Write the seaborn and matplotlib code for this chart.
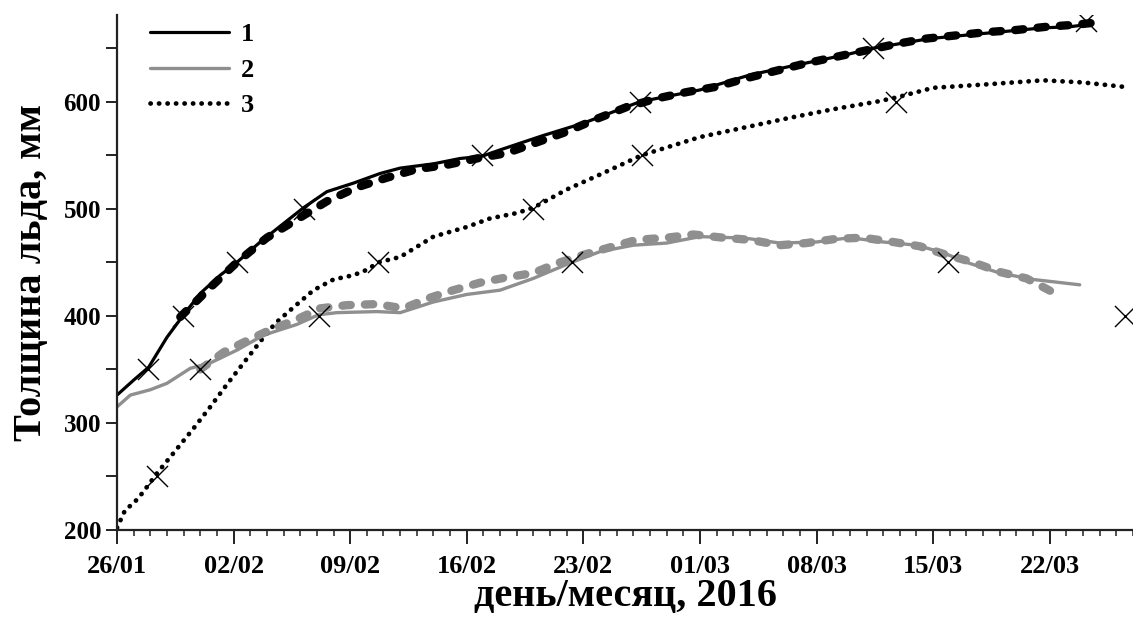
import matplotlib
matplotlib.use("Agg")
import matplotlib.pyplot as plt
import seaborn as sns
import pandas as pd
from matplotlib.ticker import MultipleLocator, FixedLocator

# ---- data (x = days since 26/01/2016) ----
s1_day = [0, 1, 1.9, 3, 4, 5, 6.2, 7.2, 8.6, 9.9, 11.2, 12.6, 14.2, 15.8, 17, 19, 20.6, 21.9, 23,
          25.5, 28, 31.4, 35, 38, 40.4, 43.8, 45.4, 48.8, 52.2, 55.6, 57.2, 58.2]
s1_val = [326, 340, 352, 380, 401, 421, 438, 450, 469, 485, 501, 516, 524, 533, 538, 542, 547, 549, 555,
          568, 580, 600, 611, 625, 633, 644, 650, 659, 664, 669, 670, 672]

m1_day = [3.8, 5.5, 7.2, 9, 10.8, 12.6, 14.4, 16.2, 18, 19.8, 21.6, 23.4, 25.2, 27, 28.8, 30.6, 32.4,
          34.2, 36, 37.8, 39.6, 41.4, 43.2, 45, 46.8, 48.6, 50.4, 52.2, 54, 55.8, 57.6, 58.8]
m1_val = [399, 425, 450, 473, 490, 507, 520, 529, 537, 541, 547, 552, 562, 572, 584, 595, 603,
          609, 614, 622, 629, 636, 642, 648, 654, 659, 662, 665, 667, 670, 672, 674]

s2_day = [0, 0.8, 2, 3, 4.4, 5.6, 7.2, 8.8, 10.8, 12.1, 13.2, 15.6, 17, 19, 21, 23, 25, 27.3, 29, 31,
          33, 35, 37, 38, 39.8, 42, 44, 46, 48, 49.6, 51, 53, 55, 57.8]
s2_val = [315, 326, 331, 337, 351, 356, 368, 382, 392, 401, 403, 404, 403, 413, 420, 424, 435, 450, 460, 466,
          468, 474, 473, 472, 468, 469, 473, 469, 466, 459, 450, 440, 434, 429]

m2_day = [5, 6.4, 7.7, 9.2, 10.7, 12.2, 13.8, 15.6, 17.2, 18.8, 20.2, 21.8, 23.4, 25, 26.4, 28, 29.6,
          31.2, 33, 34.6, 36.4, 38, 39.8, 41.4, 43.2, 44.8, 46.6, 48.2, 49.8, 51.4, 53, 54.6, 56.2]
m2_val = [350, 366, 376, 387, 396, 407, 410, 411, 407, 417, 424, 431, 436, 440, 449, 457, 464,
          471, 473, 476, 473, 471, 466, 468, 472, 473, 469, 465, 457, 450, 441, 435, 422]

s3_day = [0, 0.5, 1, 1.55, 2.4, 3.4, 4.6, 5.6, 6.6, 7.6, 8.6, 9.5, 10.6, 11.8, 13, 14.2, 15, 15.7, 17,
          19, 21, 22.4, 24, 25, 27, 29, 31.5, 35, 38, 40.4, 43, 45.6, 46.8, 49, 52, 55.6, 58, 60.4]
s3_val = [202, 219, 225, 235, 253, 272, 295, 315, 336, 356, 376, 393, 408, 424, 434, 438, 443, 450, 455,
          474, 483, 491, 496, 501, 518, 532, 550, 567, 577, 585, 593, 600, 604, 613, 616, 620, 618, 614]

obs_day = [1.86, 3.96, 7.2, 11.2, 21.9, 31.4, 45.4, 58.2,
           5.0, 12.1, 27.3, 49.9, 60.5,
           2.4, 15.7, 25.0, 31.5, 46.8]
obs_val = [350, 400, 450, 500, 550, 600, 650, 675,
           350, 400, 450, 450, 400,
           250, 450, 500, 550, 600]

xtick_days = [0, 7, 14, 21, 28, 35, 42, 49, 56]
xtick_labels = ["26/01", "02/02", "09/02", "16/02", "23/02", "01/03", "08/03", "15/03", "22/03"]
ytick_vals = [200, 300, 400, 500, 600]
legend_labels = ["1", "2", "3"]

# ---- style ----
sns.set_style("ticks")
plt.rcParams["font.family"] = ["Liberation Serif", "DejaVu Serif"]
plt.rcParams["font.weight"] = "bold"
plt.rcParams["text.color"] = "black"
plt.rcParams["axes.labelcolor"] = "black"

fig = plt.figure(figsize=(11.33, 6.22), dpi=100)
ax = fig.add_axes([117 / 1133, 92 / 622, 1016 / 1133, 515 / 622])

black = "#000000"
gray = "#8f8f8f"

sns.lineplot(x=s1_day, y=s1_val, ax=ax, color=black, lw=2.3, label=legend_labels[0])
sns.lineplot(x=s2_day, y=s2_val, ax=ax, color=gray, lw=2.4, label=legend_labels[1])
sns.lineplot(x=s3_day, y=s3_val, ax=ax, color=black, lw=3.4, label=legend_labels[2],
             linestyle=(0, (0.05, 1.75)), dash_capstyle="round")

sns.lineplot(x=m1_day, y=m1_val, ax=ax, color=black, lw=6,
             linestyle=(0, (1.0, 1.7)), dash_capstyle="round", legend=False)
sns.lineplot(x=m2_day, y=m2_val, ax=ax, color=gray, lw=6,
             linestyle=(0, (1.0, 1.7)), dash_capstyle="round", legend=False)

sns.scatterplot(x=obs_day, y=obs_val, ax=ax, marker="x", color=black, s=230,
                linewidth=1.0, zorder=5, legend=False)

for line in ax.lines:
    line.set_dash_capstyle("round")
    line.set_solid_capstyle("round")

ax.set_xlim(0, 61)
ax.set_ylim(200, 681)
ax.xaxis.set_major_locator(FixedLocator(xtick_days))
ax.set_xticklabels(xtick_labels)
ax.xaxis.set_minor_locator(MultipleLocator(1))
ax.yaxis.set_major_locator(FixedLocator(ytick_vals))
ax.yaxis.set_minor_locator(MultipleLocator(50))

for s in ["top", "right"]:
    ax.spines[s].set_visible(False)
for s in ["left", "bottom"]:
    ax.spines[s].set_linewidth(1.6)
    ax.spines[s].set_color("#222222")

ax.tick_params(axis="both", which="major", direction="out", length=8, width=1.4,
               colors="#222222", labelcolor="black")
ax.tick_params(axis="y", which="major", labelsize=18)
ax.tick_params(axis="x", which="major", labelsize=19, length=10, pad=8)
ax.tick_params(axis="x", which="minor", direction="out", length=4, width=1.1, colors="#222222")
ax.tick_params(axis="y", which="minor", direction="out", length=8, width=1.4, colors="#222222")
for lab in ax.get_xticklabels() + ax.get_yticklabels():
    lab.set_fontweight("bold")

ax.set_xlabel("день/месяц, 2016", fontsize=29, fontweight="bold", labelpad=0)
ax.set_ylabel("Толщина льда, мм", fontsize=29, fontweight="bold", labelpad=10)

leg = ax.legend(loc="upper left", bbox_to_anchor=(150 / 1133, 1 - 23 / 622),
                bbox_transform=fig.transFigure, frameon=False, fontsize=19,
                handlelength=3.0, handletextpad=0.45, labelspacing=0.45, borderaxespad=0,
                borderpad=0)
for t in leg.get_texts():
    t.set_fontweight("bold")
    t.set_color("black")

fig.savefig("out.png", dpi=100)
